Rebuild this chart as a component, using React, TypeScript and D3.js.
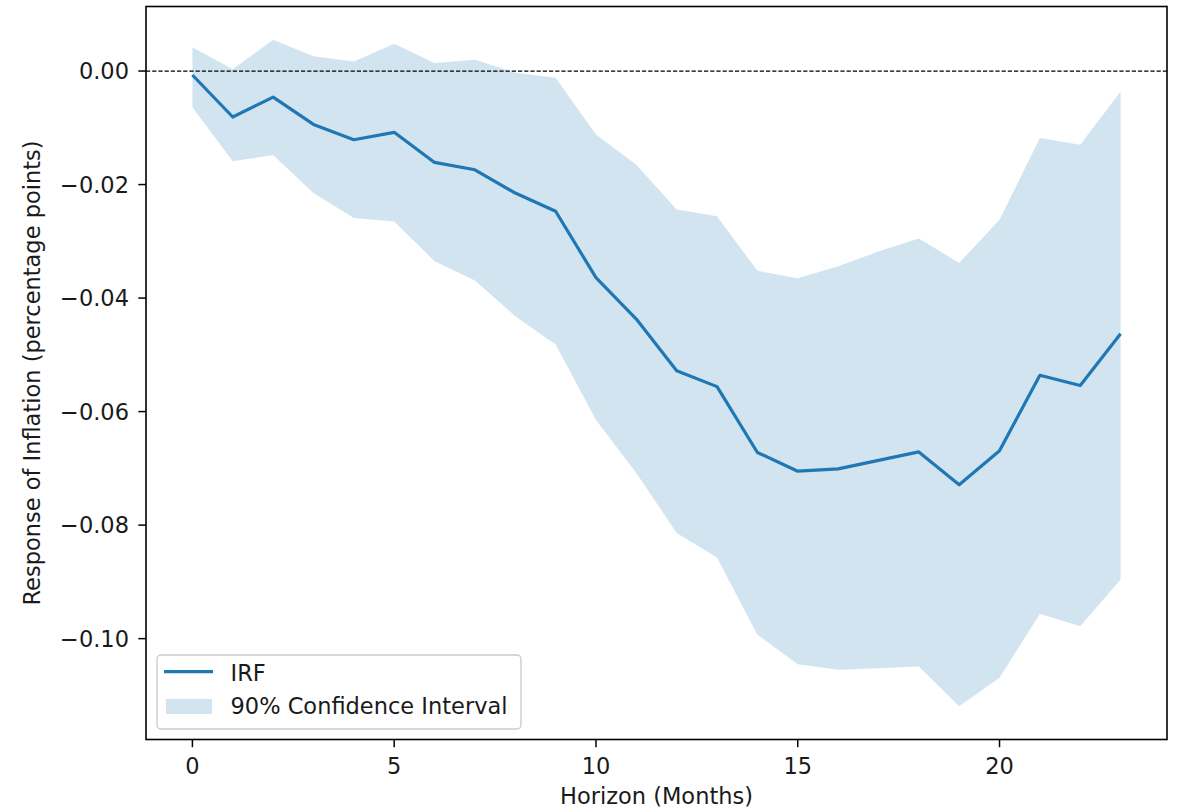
import React from "react";
import * as d3 from "d3";

// horizon (months) and impulse response with 90% band
const horizon = [0, 1, 2, 3, 4, 5, 6, 7, 8, 9, 10, 11, 12, 13, 14, 15, 16, 17, 18, 19, 20, 21, 22, 23];
const irf = [
  -0.0007, -0.0081, -0.0046, -0.0094, -0.0121, -0.0108, -0.0161, -0.0174, -0.0215, -0.0247,
  -0.0364, -0.0437, -0.0528, -0.0556, -0.0672, -0.0705, -0.0701, -0.0686, -0.0671, -0.0729,
  -0.0669, -0.0536, -0.0554, -0.0463,
];
const upper = [
  0.0042, 0.0003, 0.0055, 0.0026, 0.0017, 0.0048, 0.0014, 0.002, -0.0003, -0.0012,
  -0.0112, -0.0165, -0.0244, -0.0256, -0.0352, -0.0365, -0.0344, -0.0318, -0.0295, -0.0338,
  -0.0262, -0.0118, -0.013, -0.0036,
];
const lower = [
  -0.0064, -0.0159, -0.0148, -0.0215, -0.0259, -0.0265, -0.0335, -0.0369, -0.0432, -0.0482,
  -0.0615, -0.0708, -0.0814, -0.0857, -0.0993, -0.1045, -0.1055, -0.1052, -0.1049, -0.1119,
  -0.1069, -0.0956, -0.0978, -0.0896,
];
const xTicks = [0, 5, 10, 15, 20];
const yTicks = [0, -0.02, -0.04, -0.06, -0.08, -0.1];
const legendLabels = ["IRF", "90% Confidence Interval"];

const width = 1178;
const height = 812;
const margin = { top: 6.5, right: 11, bottom: 72.5, left: 146 };
const blue = "#1f77b4";
const font = "'DejaVu Sans', sans-serif";
const fontSize = 22.5;
const ink = "#1a1a1a";

const App = () => {
  const { top, right, bottom, left } = margin;
  const x0 = left;
  const x1 = width - right;
  const y0 = height - bottom;
  const y1 = top;

  const xPad = (d3.max(horizon)! - d3.min(horizon)!) * 0.05;
  const x = d3.scaleLinear([d3.min(horizon)! - xPad, d3.max(horizon)! + xPad], [x0, x1]);
  const lo = d3.min(lower)!;
  const hi = d3.max(upper)!;
  const yPad = (hi - lo) * 0.05;
  const y = d3.scaleLinear([lo - yPad, hi + yPad], [y0, y1]);

  const band = d3
    .area<number>()
    .x((d) => x(d))
    .y0((d, i) => y(lower[i]))
    .y1((d, i) => y(upper[i]));
  const line = d3
    .line<number>()
    .x((d) => x(d))
    .y((d, i) => y(irf[i]));

  const fmt = d3.format(".2f");
  const tickLen = 7.7;

  return (
    <svg
      width={width}
      height={height}
      style={{ position: "absolute", left: 0, top: 0, background: "#fff" }}
      fontFamily={font}
      fontSize={fontSize}
    >
      <defs>
        <clipPath id="plot">
          <rect x={x0} y={y1} width={x1 - x0} height={y0 - y1} />
        </clipPath>
      </defs>

      <g clipPath="url(#plot)">
        <path d={band(horizon)!} fill={blue} fillOpacity={0.2} />
        <line
          x1={x0}
          x2={x1}
          y1={y(0)}
          y2={y(0)}
          stroke="#000"
          strokeWidth={1.2}
          strokeDasharray="4.2,2"
        />
        <path d={line(horizon)!} fill="none" stroke={blue} strokeWidth={3.2} strokeLinejoin="round" />
      </g>

      {/* x axis */}
      <g>
        {xTicks.map((t) => (
          <g key={t} transform={`translate(${x(t)},${y0})`}>
            <line y2={tickLen} stroke="#000" strokeWidth={1.5} />
            <text y={34} textAnchor="middle" fill={ink}>
              {t}
            </text>
          </g>
        ))}
        <text x={(x0 + x1) / 2} y={804} textAnchor="middle" fill={ink}>
          Horizon (Months)
        </text>
      </g>

      {/* y axis */}
      <g>
        {yTicks.map((t) => (
          <g key={t} transform={`translate(${x0},${y(t)})`}>
            <line x2={-tickLen} stroke="#000" strokeWidth={1.5} />
            <text x={-17} dy="0.36em" textAnchor="end" fill={ink}>
              {fmt(t)}
            </text>
          </g>
        ))}
        <text
          transform={`translate(40,${(y0 + y1) / 2}) rotate(-90)`}
          textAnchor="middle"
          fill={ink}
        >
          Response of Inflation (percentage points)
        </text>
      </g>

      <rect
        x={x0}
        y={y1}
        width={x1 - x0}
        height={y0 - y1}
        fill="none"
        stroke="#000"
        strokeWidth={1.6}
      />

      {/* legend */}
      <g>
        <rect x={157} y={655} width={364} height={74} rx={4} fill="#fff" fillOpacity={0.8} stroke="#cccccc" strokeWidth={1.4} />
        <line x1={164} x2={213} y1={671.7} y2={671.7} stroke={blue} strokeWidth={3.2} />
        <rect x={166} y={699} width={46} height={15} fill={blue} fillOpacity={0.2} />
        <text x={230.5} y={680.5} fill={ink}>
          {legendLabels[0]}
        </text>
        <text x={230.5} y={714} fill={ink}>
          {legendLabels[1]}
        </text>
      </g>
    </svg>
  );
};

export default App;
